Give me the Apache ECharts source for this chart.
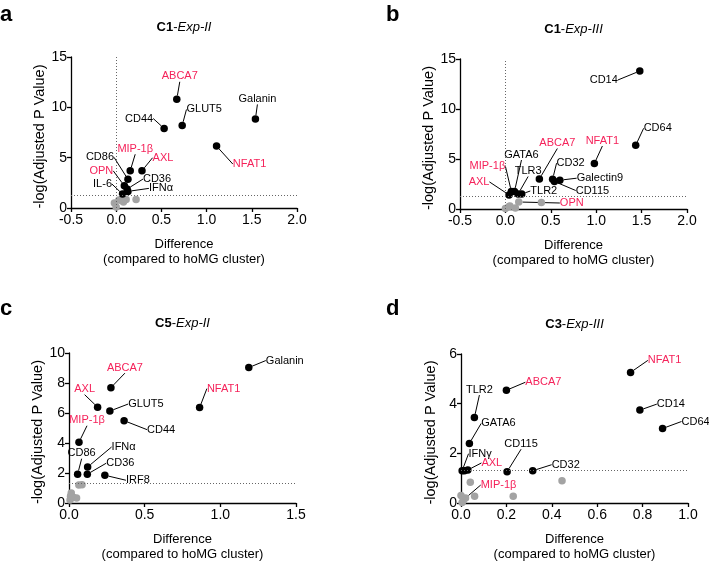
<!DOCTYPE html>
<html><head><meta charset="utf-8">
<script src="https://cdn.jsdelivr.net/npm/echarts@6/dist/echarts.min.js"></script>
<style>html,body{margin:0;padding:0;background:#fff}#c{width:709px;height:563px}</style>
</head><body><div id="c"></div>
<script>
// ---------- Panel a: C1-Exp-II ----------
const aNames = ['ABCA7','GLUT5','CD44','Galanin','NFAT1','MIP-1β','AXL','CD86','OPN','CD36','IFNα','IL-6'];
const aX = [0.67,0.73,0.53,1.54,1.11,0.155,0.285,0.13,0.09,0.12,0.13,0.07];
const aY = [10.8,8.2,7.9,8.85,6.15,3.7,3.7,2.85,2.2,1.88,1.65,1.38];
const aGreyNames = ['','','','','','',''];
const aGreyX = [-0.02,0.0,0.03,0.08,0.11,0.22,0.06];
const aGreyY = [0.5,0.1,0.8,0.6,0.85,0.85,0.75];
const aRed = ['ABCA7','NFAT1','MIP-1β','AXL','OPN'];

// ---------- Panel b: C1-Exp-III ----------
const bNames = ['CD14','CD64','NFAT1','ABCA7','CD32','Galectin9','CD115','GATA6','TLR3','TLR2','MIP-1β','AXL'];
const bX = [1.48,1.435,0.98,0.374,0.52,0.6,0.54,0.1,0.14,0.18,0.066,0.04];
const bY = [13.8,6.37,4.55,3.0,2.98,2.88,2.75,1.75,1.5,1.5,1.75,1.41];
const bGreyNames = ['OPN','','','','',''];
const bGreyX = [0.147,0.396,0.0,0.04,0.11,0.05];
const bGreyY = [0.7,0.65,0.05,0.25,0.1,0.3];
const bRed = ['NFAT1','ABCA7','MIP-1β','AXL','OPN'];

// ---------- Panel c: C5-Exp-II ----------
const cNames = ['Galanin','NFAT1','ABCA7','AXL','GLUT5','CD44','MIP-1β','IFNα','CD86','CD36','IRF8'];
const cX = [1.188,0.863,0.277,0.189,0.27,0.364,0.066,0.123,0.057,0.121,0.237];
const cY = [9.03,6.36,7.69,6.39,6.13,5.49,4.05,2.4,1.92,1.92,1.85];
const cGreyNames = ['','','','','','',''];
const cGreyX = [0.065,0.086,0.015,0.028,0.05,0.007,0.01];
const cGreyY = [1.2,1.22,0.66,0.38,0.33,0.2,0.45];
const cRed = ['NFAT1','ABCA7','AXL','MIP-1β'];

// ---------- Panel d: C3-Exp-III ----------
const dNames = ['NFAT1','ABCA7','TLR2','CD14','CD64','GATA6','CD115','CD32','IFNγ','AXL',''];
const dX = [0.747,0.2,0.059,0.788,0.888,0.037,0.203,0.316,0.005,0.03,0.015];
const dY = [5.26,4.54,3.44,3.74,3.0,2.4,1.26,1.3,1.3,1.33,1.3];
const dGreyNames = ['MIP-1β','','','','','','',''];
const dGreyX = [0.02,0.041,0.06,0.23,0.445,0.0,0.01,0.005];
const dGreyY = [0.2,0.84,0.27,0.27,0.9,0.3,0.1,0.02];
const dRed = ['NFAT1','ABCA7','AXL','MIP-1β'];

// axis settings
const xMins = [-0.5,-0.5,0,0], xMaxs = [2,2,1.5,1], xSteps = [0.5,0.5,0.5,0.2];
const yMaxs = [15,15,10,6], ySteps = [5,5,2,2];
const titlesBold = ['C1','C1','C5','C3'];
const titlesItalic = ['Exp-II','Exp-III','Exp-II','Exp-III'];
const panelLetters = ['a','b','c','d'];
const sigThreshold = 1.3;

// label offsets (px) from point centre to label centre
const offsets = [
  {'ABCA7':[3,-23],'Galanin':[2,-20],'GLUT5':[22,-16],'CD44':[-25,-10],'MIP-1β':[5,-22],'AXL':[21,-13],
   'NFAT1':[33,18],'CD86':[-28,-22],'OPN':[-23,-15],'CD36':[30,-10],'IFNα':[33,-3],'IL-6':[-20,-10]},
  {'CD14':[-36,9],'CD64':[22,-17],'NFAT1':[8,-23],'ABCA7':[18,-36],'CD32':[18,-16],'Galectin9':[40,-2],
   'CD115':[38,9],'GATA6':[7,-37],'TLR3':[10,-23],'TLR2':[22,-3],'MIP-1β':[-24,-26],'AXL':[-30,-13],'OPN':[53,1]},
  {'Galanin':[36,-7],'NFAT1':[24,-19],'ABCA7':[14,-20],'AXL':[-13,-18],'GLUT5':[36,-7],'CD44':[37,9],
   'MIP-1β':[8,-22],'IFNα':[36,-20],'CD86':[4,-21],'CD36':[33,-11],'IRF8':[33,5]},
  {'NFAT1':[34,-12],'ABCA7':[37,-8],'TLR2':[5,-28],'CD14':[31,-6],'CD64':[33,-7],'GATA6':[29,-20],
   'CD115':[14,-28],'CD32':[33,-6],'IFNγ':[18,-17],'AXL':[24,-7],'MIP-1β':[33,-13]}
];

const panels = [
  {names:aNames,x:aX,y:aY,gn:aGreyNames,gx:aGreyX,gy:aGreyY,red:aRed},
  {names:bNames,x:bX,y:bY,gn:bGreyNames,gx:bGreyX,gy:bGreyY,red:bRed},
  {names:cNames,x:cX,y:cY,gn:cGreyNames,gx:cGreyX,gy:cGreyY,red:cRed},
  {names:dNames,x:dX,y:dY,gn:dGreyNames,gx:dGreyX,gy:dGreyY,red:dRed}
];

const FONT = '"Liberation Sans", Arial, Helvetica, sans-serif';
const RED = '#f5225a';
const GREY = '#a3a3a3';

const grids = [
  {left:71, right:412, top:57, bottom:355},
  {left:460, right:22, top:59, bottom:354},
  {left:69, right:413, top:353, bottom:59},
  {left:461, right:21, top:354, bottom:59}
];

const xAxes = [], yAxes = [], series = [], graphics = [];
panels.forEach((p, i) => {
  const axLine = {show:true, onZero:false, lineStyle:{color:'#000', width:1.3}};
  const axTick = {show:true, inside:false, length:4, lineStyle:{color:'#000', width:1.3}};
  xAxes.push({
    type:'value', gridIndex:i, min:xMins[i], max:xMaxs[i], interval:xSteps[i],
    axisLine:axLine, axisTick:axTick, splitLine:{show:false},
    axisLabel:{color:'#000', fontSize:14, fontFamily:FONT, margin:5, formatter:v=>v.toFixed(1)},
    name:'Difference\n(compared to hoMG cluster)', nameLocation:'middle', nameGap:29,
    nameTextStyle:{color:'#000', fontSize:13, fontFamily:FONT, lineHeight:15}
  });
  yAxes.push({
    type:'value', gridIndex:i, min:0, max:yMaxs[i], interval:ySteps[i],
    axisLine:axLine, axisTick:axTick, splitLine:{show:false},
    axisLabel:{color:'#000', fontSize:14, fontFamily:FONT, margin:4},
    name:'-log(Adjusted P Value)', nameLocation:'middle', nameGap:23,
    nameTextStyle:{color:'#000', fontSize:14.5, fontFamily:FONT, padding:[0,8,0,0]}
  });
  const mkData = (names, xs, ys) => xs.map((x, k) => {
    const n = names[k];
    return {name:n, value:[x, ys[k]],
      label:{show:!!n, color: p.red.includes(n) ? RED : '#000'}};
  });
  const layoutFn = (names) => (params) => {
    const n = names[params.dataIndex];
    const o = offsets[i][n];
    if (!o) return {};
    return {dx:o[0], dy:o[1]};
  };
  const labelCommon = {position:'inside', fontSize:11, fontFamily:FONT, color:'#000', formatter:'{b}'};
  series.push({
    type:'scatter', xAxisIndex:i, yAxisIndex:i, symbolSize:7.5, z:2,
    itemStyle:{color:GREY, opacity:1},
    data:mkData(p.gn, p.gx, p.gy),
    label:labelCommon,
    labelLine:{show:true, lineStyle:{color:'#000', width:1}},
    labelLayout:layoutFn(p.gn),
    emphasis:{disabled:true}, silent:true
  });
  const ml = [{yAxis:sigThreshold}];
  if (xMins[i] < 0) ml.push({xAxis:0});
  series.push({
    type:'scatter', xAxisIndex:i, yAxisIndex:i, symbolSize:7.5, z:3,
    itemStyle:{color:'#000', opacity:1},
    data:mkData(p.names, p.x, p.y),
    label:labelCommon,
    labelLine:{show:true, lineStyle:{color:'#000', width:1}},
    labelLayout:layoutFn(p.names),
    emphasis:{disabled:true}, silent:true,
    markLine:{silent:true, symbol:'none', label:{show:false}, animation:false,
      lineStyle:{type:[1,2], color:'#666', width:1}, data:ml}
  });
  const g = grids[i];
  const cx = g.left + (709 - g.left - g.right) / 2;
  graphics.push({
    type:'text', x:cx, y:g.top - 30,
    style:{text:'{b|' + titlesBold[i] + '}-{i|' + titlesItalic[i] + '}', align:'center', verticalAlign:'middle',
      fill:'#000', font:'13px ' + FONT,
      rich:{b:{fontWeight:'bold', fontSize:13, fontFamily:FONT}, i:{fontStyle:'italic', fontSize:13, fontFamily:FONT}}}
  });
  graphics.push({
    type:'text', x:(i % 2 === 0 ? 0 : 386), y:(i < 2 ? 4 : 298),
    style:{text:panelLetters[i], fill:'#000', font:'bold 22px ' + FONT}
  });
});

const chart = echarts.init(document.getElementById('c'), null, {renderer:'canvas'});
chart.setOption({
  animation:false,
  backgroundColor:'#fff',
  grid:grids,
  xAxis:xAxes,
  yAxis:yAxes,
  series:series,
  graphic:graphics
});
</script>
</body></html>
